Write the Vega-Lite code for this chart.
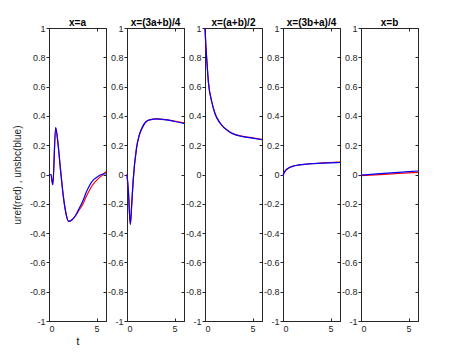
{
  "$schema": "https://vega.github.io/schema/vega-lite/v6.json",
  "background": "white",
  "padding": {"left": 11, "top": 17, "right": 5, "bottom": 5},
  "config": {
    "font": "Liberation Sans",
    "view": {"stroke": "#262626", "strokeWidth": 1},
    "axis": {
      "domainColor": "#262626", "tickColor": "#262626", "labelColor": "#262626",
      "labelFont": "Liberation Sans", "labelFontSize": 9, "grid": false,
      "titleFont": "Liberation Sans", "titleFontWeight": "normal", "titleColor": "#262626", "titleFontSize": 10
    },
    "title": {"font": "Liberation Sans", "fontSize": 10, "fontWeight": "bold", "color": "#000000", "offset": -4}
  },
  "datasets": {
    "p1": [
      {"t": 0, "red": 0, "blue": 0}, {"t": 0.2, "red": 0, "blue": 0}, {"t": 0.4, "red": -0.07, "blue": -0.07},
      {"t": 0.7, "red": 0.32, "blue": 0.32}, {"t": 0.95, "red": 0.21, "blue": 0.21}, {"t": 1.2, "red": 0.04, "blue": 0.04},
      {"t": 1.55, "red": -0.17, "blue": -0.17}, {"t": 1.8, "red": -0.27, "blue": -0.27}, {"t": 2.07, "red": -0.32, "blue": -0.32},
      {"t": 2.4, "red": -0.31, "blue": -0.31}, {"t": 2.8, "red": -0.28, "blue": -0.28}, {"t": 3.1, "red": -0.25, "blue": -0.24},
      {"t": 3.5, "red": -0.21, "blue": -0.19}, {"t": 4.0, "red": -0.14, "blue": -0.11}, {"t": 4.5, "red": -0.08, "blue": -0.05},
      {"t": 5.0, "red": -0.04, "blue": -0.02}, {"t": 5.5, "red": -0.01, "blue": 0.0}, {"t": 6.0, "red": 0.02, "blue": 0.005}
    ],
    "p2": [
      {"t": 0, "red": 0, "blue": 0}, {"t": 0.15, "red": -0.12, "blue": -0.12}, {"t": 0.35, "red": -0.34, "blue": -0.34},
      {"t": 0.5, "red": -0.2, "blue": -0.2}, {"t": 0.65, "red": -0.04, "blue": -0.04}, {"t": 1.0, "red": 0.18, "blue": 0.18},
      {"t": 1.3, "red": 0.27, "blue": 0.27}, {"t": 1.6, "red": 0.32, "blue": 0.32}, {"t": 2.0, "red": 0.36, "blue": 0.36},
      {"t": 2.5, "red": 0.375, "blue": 0.375}, {"t": 3.1, "red": 0.38, "blue": 0.38}, {"t": 4.0, "red": 0.375, "blue": 0.374},
      {"t": 5.0, "red": 0.365, "blue": 0.362}, {"t": 6.0, "red": 0.352, "blue": 0.348}
    ],
    "p3": [
      {"t": 0, "red": 1, "blue": 1}, {"t": 0.09, "red": 0.88, "blue": 0.88}, {"t": 0.18, "red": 0.79, "blue": 0.79},
      {"t": 0.36, "red": 0.63, "blue": 0.63}, {"t": 0.7, "red": 0.5, "blue": 0.5}, {"t": 1.06, "red": 0.415, "blue": 0.415},
      {"t": 1.6, "red": 0.35, "blue": 0.35}, {"t": 2.6, "red": 0.29, "blue": 0.29}, {"t": 4.0, "red": 0.26, "blue": 0.258},
      {"t": 5.0, "red": 0.25, "blue": 0.248}, {"t": 6.0, "red": 0.24, "blue": 0.237}
    ],
    "p4": [
      {"t": 0, "red": -0.01, "blue": -0.01}, {"t": 0.1, "red": 0.01, "blue": 0.01}, {"t": 0.3, "red": 0.03, "blue": 0.03},
      {"t": 0.6, "red": 0.045, "blue": 0.045}, {"t": 1, "red": 0.055, "blue": 0.055}, {"t": 1.5, "red": 0.063, "blue": 0.063},
      {"t": 2, "red": 0.068, "blue": 0.068}, {"t": 3, "red": 0.074, "blue": 0.074}, {"t": 4, "red": 0.078, "blue": 0.077},
      {"t": 5, "red": 0.082, "blue": 0.08}, {"t": 6, "red": 0.085, "blue": 0.082}
    ],
    "p5": [
      {"t": 0, "red": -0.008, "blue": -0.004}, {"t": 2, "red": -0.001, "blue": 0.006},
      {"t": 4, "red": 0.007, "blue": 0.015}, {"t": 6, "red": 0.015, "blue": 0.024}
    ]
  },
  "bounds": "flush",
  "spacing": 21,
  "hconcat": [
    {
      "title": "x=a", "width": 57, "height": 293, "data": {"name": "p1"},
      "layer": [
        {"mark": {"type": "line", "color": "#ff0000", "strokeWidth": 1.2, "interpolate": "monotone"},
         "encoding": {
           "x": {"field": "t", "type": "quantitative", "scale": {"domain": [0, 6]}, "axis": {"values": [0, 5], "title": "t", "titleColor": "#000000", "tickSize": -3, "labelPadding": 6, "titlePadding": 3}},
           "y": {"field": "red", "type": "quantitative", "scale": {"domain": [-1, 1]}, "axis": {"values": [-1, -0.8, -0.6, -0.4, -0.2, 0, 0.2, 0.4, 0.6, 0.8, 1], "format": "~g", "tickSize": 3, "labelPadding": 1, "labelExpr": "replace(datum.label, '−', '-')", "title": "uref(red) ,  unsbc(blue)", "titleColor": "#262626", "titlePadding": 7}}
         }},
        {"mark": {"type": "line", "color": "#0000ff", "strokeWidth": 1.2, "interpolate": "monotone"},
         "encoding": {
           "x": {"field": "t", "type": "quantitative", "axis": {"orient": "top", "values": [0, 5], "labels": false, "title": null, "tickSize": -3}},
           "y": {"field": "blue", "type": "quantitative", "axis": {"orient": "right", "values": [-1, -0.8, -0.6, -0.4, -0.2, 0, 0.2, 0.4, 0.6, 0.8, 1], "labels": false, "title": null, "tickSize": -3}}
         }}
      ],
      "resolve": {"axis": {"x": "independent", "y": "independent"}}
    },
    {
      "title": "x=(3a+b)/4", "width": 57, "height": 293, "data": {"name": "p2"},
      "layer": [
        {"mark": {"type": "line", "color": "#ff0000", "strokeWidth": 1.2, "interpolate": "monotone"},
         "encoding": {
           "x": {"field": "t", "type": "quantitative", "scale": {"domain": [0, 6]}, "axis": {"values": [0, 5], "title": null, "tickSize": -3, "labelPadding": 6}},
           "y": {"field": "red", "type": "quantitative", "scale": {"domain": [-1, 1]}, "axis": {"values": [-1, -0.8, -0.6, -0.4, -0.2, 0, 0.2, 0.4, 0.6, 0.8, 1], "format": "~g", "tickSize": 3, "labelPadding": 1, "labelExpr": "replace(datum.label, '−', '-')", "title": null}}
         }},
        {"mark": {"type": "line", "color": "#0000ff", "strokeWidth": 1.2, "interpolate": "monotone"},
         "encoding": {
           "x": {"field": "t", "type": "quantitative", "axis": {"orient": "top", "values": [0, 5], "labels": false, "title": null, "tickSize": -3}},
           "y": {"field": "blue", "type": "quantitative", "axis": {"orient": "right", "values": [-1, -0.8, -0.6, -0.4, -0.2, 0, 0.2, 0.4, 0.6, 0.8, 1], "labels": false, "title": null, "tickSize": -3}}
         }}
      ],
      "resolve": {"axis": {"x": "independent", "y": "independent"}}
    },
    {
      "title": "x=(a+b)/2", "width": 57, "height": 293, "data": {"name": "p3"},
      "layer": [
        {"mark": {"type": "line", "color": "#ff0000", "strokeWidth": 1.2, "interpolate": "monotone"},
         "encoding": {
           "x": {"field": "t", "type": "quantitative", "scale": {"domain": [0, 6]}, "axis": {"values": [0, 5], "title": null, "tickSize": -3, "labelPadding": 6}},
           "y": {"field": "red", "type": "quantitative", "scale": {"domain": [-1, 1]}, "axis": {"values": [-1, -0.8, -0.6, -0.4, -0.2, 0, 0.2, 0.4, 0.6, 0.8, 1], "format": "~g", "tickSize": 3, "labelPadding": 1, "labelExpr": "replace(datum.label, '−', '-')", "title": null}}
         }},
        {"mark": {"type": "line", "color": "#0000ff", "strokeWidth": 1.2, "interpolate": "monotone"},
         "encoding": {
           "x": {"field": "t", "type": "quantitative", "axis": {"orient": "top", "values": [0, 5], "labels": false, "title": null, "tickSize": -3}},
           "y": {"field": "blue", "type": "quantitative", "axis": {"orient": "right", "values": [-1, -0.8, -0.6, -0.4, -0.2, 0, 0.2, 0.4, 0.6, 0.8, 1], "labels": false, "title": null, "tickSize": -3}}
         }}
      ],
      "resolve": {"axis": {"x": "independent", "y": "independent"}}
    },
    {
      "title": "x=(3b+a)/4", "width": 57, "height": 293, "data": {"name": "p4"},
      "layer": [
        {"mark": {"type": "line", "color": "#ff0000", "strokeWidth": 1.2, "interpolate": "monotone"},
         "encoding": {
           "x": {"field": "t", "type": "quantitative", "scale": {"domain": [0, 6]}, "axis": {"values": [0, 5], "title": null, "tickSize": -3, "labelPadding": 6}},
           "y": {"field": "red", "type": "quantitative", "scale": {"domain": [-1, 1]}, "axis": {"values": [-1, -0.8, -0.6, -0.4, -0.2, 0, 0.2, 0.4, 0.6, 0.8, 1], "format": "~g", "tickSize": 3, "labelPadding": 1, "labelExpr": "replace(datum.label, '−', '-')", "title": null}}
         }},
        {"mark": {"type": "line", "color": "#0000ff", "strokeWidth": 1.2, "interpolate": "monotone"},
         "encoding": {
           "x": {"field": "t", "type": "quantitative", "axis": {"orient": "top", "values": [0, 5], "labels": false, "title": null, "tickSize": -3}},
           "y": {"field": "blue", "type": "quantitative", "axis": {"orient": "right", "values": [-1, -0.8, -0.6, -0.4, -0.2, 0, 0.2, 0.4, 0.6, 0.8, 1], "labels": false, "title": null, "tickSize": -3}}
         }}
      ],
      "resolve": {"axis": {"x": "independent", "y": "independent"}}
    },
    {
      "title": "x=b", "width": 57, "height": 293, "data": {"name": "p5"},
      "layer": [
        {"mark": {"type": "line", "color": "#ff0000", "strokeWidth": 1.2, "interpolate": "monotone"},
         "encoding": {
           "x": {"field": "t", "type": "quantitative", "scale": {"domain": [0, 6]}, "axis": {"values": [0, 5], "title": null, "tickSize": -3, "labelPadding": 6}},
           "y": {"field": "red", "type": "quantitative", "scale": {"domain": [-1, 1]}, "axis": {"values": [-1, -0.8, -0.6, -0.4, -0.2, 0, 0.2, 0.4, 0.6, 0.8, 1], "format": "~g", "tickSize": 3, "labelPadding": 1, "labelExpr": "replace(datum.label, '−', '-')", "title": null}}
         }},
        {"mark": {"type": "line", "color": "#0000ff", "strokeWidth": 1.2, "interpolate": "monotone"},
         "encoding": {
           "x": {"field": "t", "type": "quantitative", "axis": {"orient": "top", "values": [0, 5], "labels": false, "title": null, "tickSize": -3}},
           "y": {"field": "blue", "type": "quantitative", "axis": {"orient": "right", "values": [-1, -0.8, -0.6, -0.4, -0.2, 0, 0.2, 0.4, 0.6, 0.8, 1], "labels": false, "title": null, "tickSize": -3}}
         }}
      ],
      "resolve": {"axis": {"x": "independent", "y": "independent"}}
    }
  ]
}
